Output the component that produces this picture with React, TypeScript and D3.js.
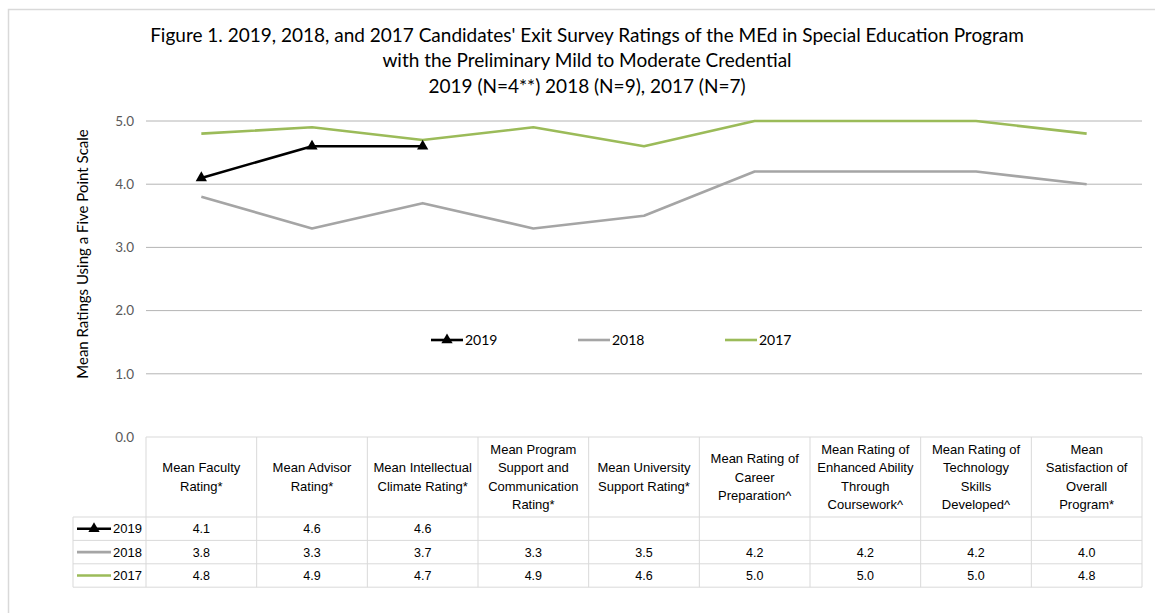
import * as d3 from 'd3'

const W = 1155
const H = 613
const PLOT = { left: 146, right: 1142, top: 121, bottom: 437 }
const TABLE = { labelLeft: 73, headerBottom: 517, rowH: 23.4 }

const titleLines = [
  "Figure 1. 2019, 2018, and 2017 Candidates' Exit Survey Ratings of the MEd in Special Education Program",
  'with the Preliminary Mild to Moderate Credential',
  '2019 (N=4**) 2018 (N=9), 2017 (N=7)',
]
const yTitle = 'Mean Ratings Using a Five Point Scale'
const yTicks = [0, 1, 2, 3, 4, 5]

const categories = [
  ['Mean Faculty', 'Rating*'],
  ['Mean Advisor', 'Rating*'],
  ['Mean Intellectual', 'Climate Rating*'],
  ['Mean Program', 'Support and', 'Communication', 'Rating*'],
  ['Mean University', 'Support Rating*'],
  ['Mean Rating of', 'Career', 'Preparation^'],
  ['Mean Rating of', 'Enhanced Ability', 'Through', 'Coursework^'],
  ['Mean Rating of', 'Technology', 'Skills', 'Developed^'],
  ['Mean', 'Satisfaction of', 'Overall', 'Program*'],
]

const values2019: (number | null)[] = [4.1, 4.6, 4.6, null, null, null, null, null, null]
const values2018: (number | null)[] = [3.8, 3.3, 3.7, 3.3, 3.5, 4.2, 4.2, 4.2, 4.0]
const values2017: (number | null)[] = [4.8, 4.9, 4.7, 4.9, 4.6, 5.0, 5.0, 5.0, 4.8]

const series = [
  { name: '2019', values: values2019, color: '#000000', marker: true, legendX: 431 },
  { name: '2018', values: values2018, color: '#a5a5a5', marker: false, legendX: 578 },
  { name: '2017', values: values2017, color: '#9bbb59', marker: false, legendX: 725 },
]

const CAL = 'Lato, "Open Sans", sans-serif'
const ARIAL = '"Liberation Sans", Arial, sans-serif'

export default function App() {
  const keys = categories.map((_, i) => String(i))
  const x = d3.scaleBand().domain(keys).range([PLOT.left, PLOT.right])
  const y = d3.scaleLinear().domain([0, 5]).range([PLOT.bottom, PLOT.top])
  const cx = (i: number) => (x(String(i)) ?? 0) + x.bandwidth() / 2

  const line = d3
    .line<number | null>()
    .defined((d) => d !== null)
    .x((_, i) => cx(i))
    .y((d) => y(d as number))

  const tri = d3.symbol().type(d3.symbolTriangle).size(55)
  const rowTop = (r: number) => TABLE.headerBottom + r * TABLE.rowH

  return (
    <div style={{ position: 'absolute', left: 0, top: 0 }}>
      <svg width={W} height={H} style={{ display: 'block', background: '#fff' }}>
        <rect x={8.5} y={9.5} width={1300} height={900} fill="#fff" stroke="#d9d9d9" strokeWidth={1.5} />

        {/* title */}
        {titleLines.map((t, i) => (
          <text key={i} x={587} y={[42, 67, 93][i]} textAnchor="middle" fontFamily={CAL} fontSize={19} fill="#000">
            {t}
          </text>
        ))}

        {/* gridlines */}
        {yTicks.map((t) => (
          <line
            key={t}
            x1={PLOT.left}
            x2={PLOT.right}
            y1={y(t)}
            y2={y(t)}
            stroke={t === 0 ? '#d9d9d9' : '#b4b4b4'}
            strokeWidth={1}
          />
        ))}
        {yTicks.map((t) => (
          <text
            key={'l' + t}
            x={134}
            y={y(t)}
            dy="0.35em"
            textAnchor="end"
            fontFamily={CAL}
            fontSize={13.5}
            fill="#595959"
          >
            {t.toFixed(1)}
          </text>
        ))}

        <text
          transform={`translate(88,${(125 + 383) / 2}) rotate(-90)`}
          textAnchor="middle"
          fontFamily={CAL}
          fontSize={15}
          fill="#000"
        >
          {yTitle}
        </text>

        {/* lines */}
        {series
          .slice()
          .reverse()
          .map((s) => (
            <g key={s.name}>
              <path d={line(s.values) ?? ''} fill="none" stroke={s.color} strokeWidth={2.6} strokeLinejoin="round" />
              {s.marker &&
                s.values.map((v, i) =>
                  v === null ? null : (
                    <path key={i} d={tri() ?? ''} transform={`translate(${cx(i)},${y(v)})`} fill={s.color} />
                  ),
                )}
            </g>
          ))}

        {/* legend */}
        {series.map((s) => (
          <g key={'lg' + s.name}>
            <line x1={s.legendX} x2={s.legendX + 32} y1={340} y2={340} stroke={s.color} strokeWidth={2.6} />
            {s.marker && <path d={tri() ?? ''} transform={`translate(${s.legendX + 16},340)`} fill={s.color} />}
            <text x={s.legendX + 34} y={340} dy="0.35em" fontFamily={CAL} fontSize={14} fill="#000">
              {s.name}
            </text>
          </g>
        ))}

        {/* data table */}
        <g stroke="#d9d9d9" strokeWidth={1}>
          {categories.map((_, i) => (
            <line key={'v' + i} x1={x(String(i))} x2={x(String(i))} y1={PLOT.bottom} y2={rowTop(3)} />
          ))}
          <line x1={PLOT.right} x2={PLOT.right} y1={PLOT.bottom} y2={rowTop(3)} />
          <line x1={TABLE.labelLeft} x2={TABLE.labelLeft} y1={rowTop(0)} y2={rowTop(3)} />
          {[0, 1, 2, 3].map((r) => (
            <line key={'h' + r} x1={TABLE.labelLeft} x2={PLOT.right} y1={rowTop(r)} y2={rowTop(r)} />
          ))}
        </g>

        {categories.map((lines, i) => {
          const lh = 18.6
          const mid = (PLOT.bottom + TABLE.headerBottom) / 2
          const start = mid - ((lines.length - 1) * lh) / 2
          return (
            <text key={'c' + i} textAnchor="middle" fontFamily={ARIAL} fontSize={13} fill="#000">
              {lines.map((ln, j) => (
                <tspan key={j} x={cx(i)} y={start + j * lh} dy="0.35em">
                  {ln}
                </tspan>
              ))}
            </text>
          )
        })}

        {series.map((s, r) => {
          const yc = rowTop(r) + TABLE.rowH / 2
          return (
            <g key={'row' + s.name}>
              <line x1={77} x2={111} y1={yc} y2={yc} stroke={s.color} strokeWidth={2.6} />
              {s.marker && <path d={tri() ?? ''} transform={`translate(94,${yc})`} fill={s.color} />}
              <text x={113} y={yc} dy="0.36em" fontFamily={ARIAL} fontSize={13} fill="#000">
                {s.name}
              </text>
              {s.values.map((v, i) =>
                v === null ? null : (
                  <text
                    key={i}
                    x={cx(i)}
                    y={yc}
                    dy="0.36em"
                    textAnchor="middle"
                    fontFamily={ARIAL}
                    fontSize={12.5}
                    fill="#000"
                  >
                    {v.toFixed(1)}
                  </text>
                ),
              )}
            </g>
          )
        })}
      </svg>
    </div>
  )
}
